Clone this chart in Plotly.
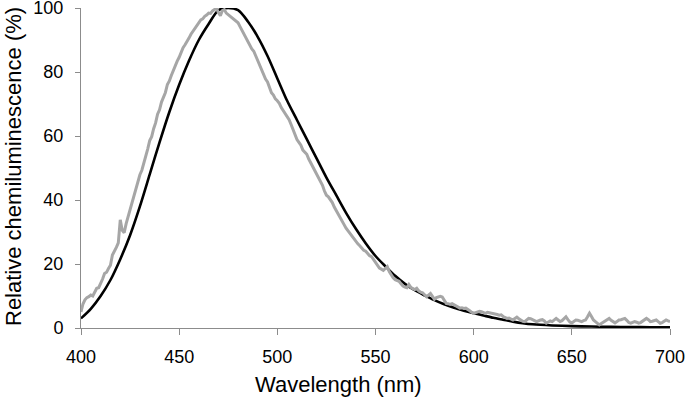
import plotly.graph_objects as go

# Black (smooth) emission spectrum
black_nm = [400, 405, 410, 415, 420, 425, 430, 435, 440, 445, 450, 455, 460, 465,
            470, 475, 480, 485, 490, 495, 500, 505, 510, 515, 520, 525, 530, 535,
            540, 545, 550, 555, 560, 565, 570, 575, 580, 585, 590, 595, 600, 605,
            610, 615, 620, 625, 630, 640, 650, 660, 670, 680, 690, 700]
black_val = [3.0, 6.0, 10.0, 15.0, 21.5, 29.0, 38.0, 48.0, 58.0, 67.5, 76.0, 83.5, 90.0, 95.0,
             99.3, 100.0, 99.3, 95.8, 91.0, 85.0, 78.0, 71.0, 65.0, 59.0, 53.0, 47.0, 41.5, 36.0,
             31.0, 26.5, 22.5, 19.3, 16.3, 13.8, 11.8, 10.2, 8.7, 7.4, 6.3, 5.4, 4.6, 3.9,
             3.2, 2.6, 2.0, 1.5, 1.15, 0.8, 0.6, 0.45, 0.35, 0.3, 0.25, 0.2]

# Gray (noisy, measured) spectrum, 1 nm steps from 400 to 700
gray_start, gray_end = 400, 700
gray_val = [
    5.0, 7.5, 8.8, 9.5, 9.8, 10.3, 10.0, 11.2, 12.4, 12.6,        # 400-409
    13.8, 15.3, 17.0, 17.4, 18.6, 19.6, 22.8, 24.3, 25.2, 26.6,   # 410-419
    33.8, 30.5, 29.8, 32.6, 34.8, 36.9, 39.4, 40.8, 43.5, 45.2,   # 420-429
    47.9, 49.3, 51.4, 53.2, 56.0, 58.6, 59.8, 62.3, 64.1, 66.8,   # 430-439
    68.2, 70.6, 72.1, 73.6, 76.1, 77.2, 78.9, 80.6, 81.7, 83.4,   # 440-449
    84.6, 86.3, 87.6, 88.5, 89.8, 90.6, 91.8, 92.7, 93.4, 94.5,   # 450-459
    95.2, 96.3, 96.6, 97.4, 97.8, 98.4, 98.3, 99.1, 99.5, 99.9,   # 460-469
    98.6, 97.6, 99.2, 99.5, 98.4, 97.9, 97.3, 96.9, 96.4, 95.8,   # 470-479
    95.4, 94.2, 93.0, 92.1, 90.6, 89.8, 88.3, 87.2, 86.5, 85.0,   # 480-489
    83.6, 82.0, 81.1, 79.6, 77.8, 76.9, 75.1, 73.5, 72.8, 71.6,   # 490-499
    71.0, 70.2, 68.9, 67.9, 66.8, 65.9, 65.1, 63.6, 61.8, 60.2,   # 500-509
    58.9, 58.0, 57.1, 55.6, 55.0, 54.3, 52.8, 51.6, 50.4, 49.2,   # 510-519
    48.3, 47.0, 45.4, 44.6, 42.8, 41.5, 41.0, 40.2, 39.2, 37.8,   # 520-529
    36.6, 35.5, 34.4, 33.1, 32.3, 31.2, 30.4, 29.6, 28.6, 27.8,   # 530-539
    26.9, 26.3, 25.7, 24.8, 24.3, 24.0, 23.2, 22.6, 22.3, 21.4,   # 540-549
    20.3, 19.8, 18.7, 18.4, 18.0, 18.6, 19.2, 17.6, 16.6, 15.7,   # 550-559
    15.1, 14.8, 14.6, 13.8, 13.1, 12.8, 12.6, 13.6, 12.7, 12.3,   # 560-569
    12.0, 12.4, 11.6, 11.2, 11.0, 10.4, 9.8, 10.3, 10.8, 9.9,     # 570-579
    9.0, 9.5, 9.8, 9.9, 9.7, 8.6, 7.7, 7.6, 7.4, 7.6,             # 580-589
    7.2, 6.8, 6.5, 6.2, 6.3, 6.1, 6.2, 5.9, 5.4, 4.9,             # 590-599
    4.6, 4.8, 5.0, 5.2, 5.1, 4.8, 4.6, 4.9, 4.8, 4.5,             # 600-609
    4.6, 4.4, 4.2, 4.0, 4.1, 3.6, 3.2, 3.0, 3.1, 2.7,             # 610-619
    2.5, 3.0, 3.4, 2.9, 2.5, 2.1, 2.0, 2.5, 3.0, 2.9,             # 620-629
    2.7, 2.3, 2.0, 2.3, 2.5, 2.6, 2.2, 1.5, 1.8, 2.2,             # 630-639
    2.0, 2.6, 3.0, 2.5, 2.0, 2.3, 3.0, 3.5, 2.6, 1.9,             # 640-649
    1.6, 2.0, 2.5, 2.4, 2.1, 2.0, 2.3, 2.5, 3.5, 4.6,             # 650-659
    3.6, 2.5, 2.0, 1.6, 1.0, 1.4, 1.8, 2.0, 2.6, 3.0,             # 660-669
    2.4, 1.9, 1.6, 2.0, 2.5, 2.6, 2.8, 3.0, 2.4, 1.7,             # 670-679
    1.5, 1.8, 2.0, 1.8, 1.5, 1.7, 2.2, 2.7, 3.0, 2.6,             # 680-689
    2.0, 2.1, 2.4, 2.5, 2.0, 1.5, 1.7, 2.2, 2.5, 2.2,             # 690-699
    2.0,                                                          # 700
]
gray_nm = list(range(gray_start, gray_end + 1))

x_ticks = [400, 450, 500, 550, 600, 650, 700]
y_ticks = [0, 20, 40, 60, 80, 100]
x_title = "Wavelength (nm)"
y_title = "Relative chemiluminescence (%)"

FONT = "Liberation Sans, Arial, sans-serif"
AXIS_GRAY = "#8c8c8c"
W, H = 685, 402
ML, MR, MT, MB = 81, 15, 8, 74

fig = go.Figure()
fig.add_trace(go.Scatter(x=black_nm, y=black_val, mode="lines",
                         line=dict(color="#000000", width=2.6, shape="spline", smoothing=0.8),
                         showlegend=False, hoverinfo="skip"))
fig.add_trace(go.Scatter(x=gray_nm, y=gray_val, mode="lines",
                         line=dict(color="#a6a6a6", width=3),
                         showlegend=False, hoverinfo="skip"))

fig.update_layout(
    width=W, height=H,
    margin=dict(l=ML, r=MR, t=MT, b=MB, autoexpand=False),
    paper_bgcolor="white", plot_bgcolor="white",
    font=dict(family=FONT, color="#000000"),
    xaxis=dict(range=[400, 700], tickvals=x_ticks, ticktext=[str(v) for v in x_ticks],
               automargin=False, ticklabeloverflow="allow",
               showgrid=False, zeroline=False, showline=True, linecolor=AXIS_GRAY, linewidth=1,
               ticks="outside", ticklen=6, tickcolor=AXIS_GRAY, tickwidth=1,
               ticklabelstandoff=6,
               tickfont=dict(size=18, family=FONT, color="#000")),
    yaxis=dict(range=[0, 100], tickvals=y_ticks, ticktext=[str(v) for v in y_ticks],
               automargin=False, ticklabeloverflow="allow",
               showgrid=False, zeroline=False, showline=True, linecolor=AXIS_GRAY, linewidth=1,
               ticks="outside", ticklen=5, tickcolor=AXIS_GRAY, tickwidth=1,
               ticklabelstandoff=8,
               tickfont=dict(size=18, family=FONT, color="#000")),
    annotations=[
        dict(text=x_title, xref="paper", yref="paper",
             x=(338 - ML) / (W - ML - MR), y=-(384 - (H - MB)) / (H - MT - MB),
             xanchor="center", yanchor="middle", showarrow=False,
             font=dict(size=22, family=FONT, color="#000")),
        dict(text=y_title, xref="paper", yref="paper", textangle=-90,
             x=-(ML - 13) / (W - ML - MR), y=((H - MB) - 167) / (H - MT - MB),
             xanchor="center", yanchor="middle", showarrow=False,
             font=dict(size=22, family=FONT, color="#000")),
    ],
)

fig.write_html("out.html",
               config={"displayModeBar": False, "staticPlot": True},
               post_script="document.body.style.margin='0';document.body.style.overflow='hidden';")
